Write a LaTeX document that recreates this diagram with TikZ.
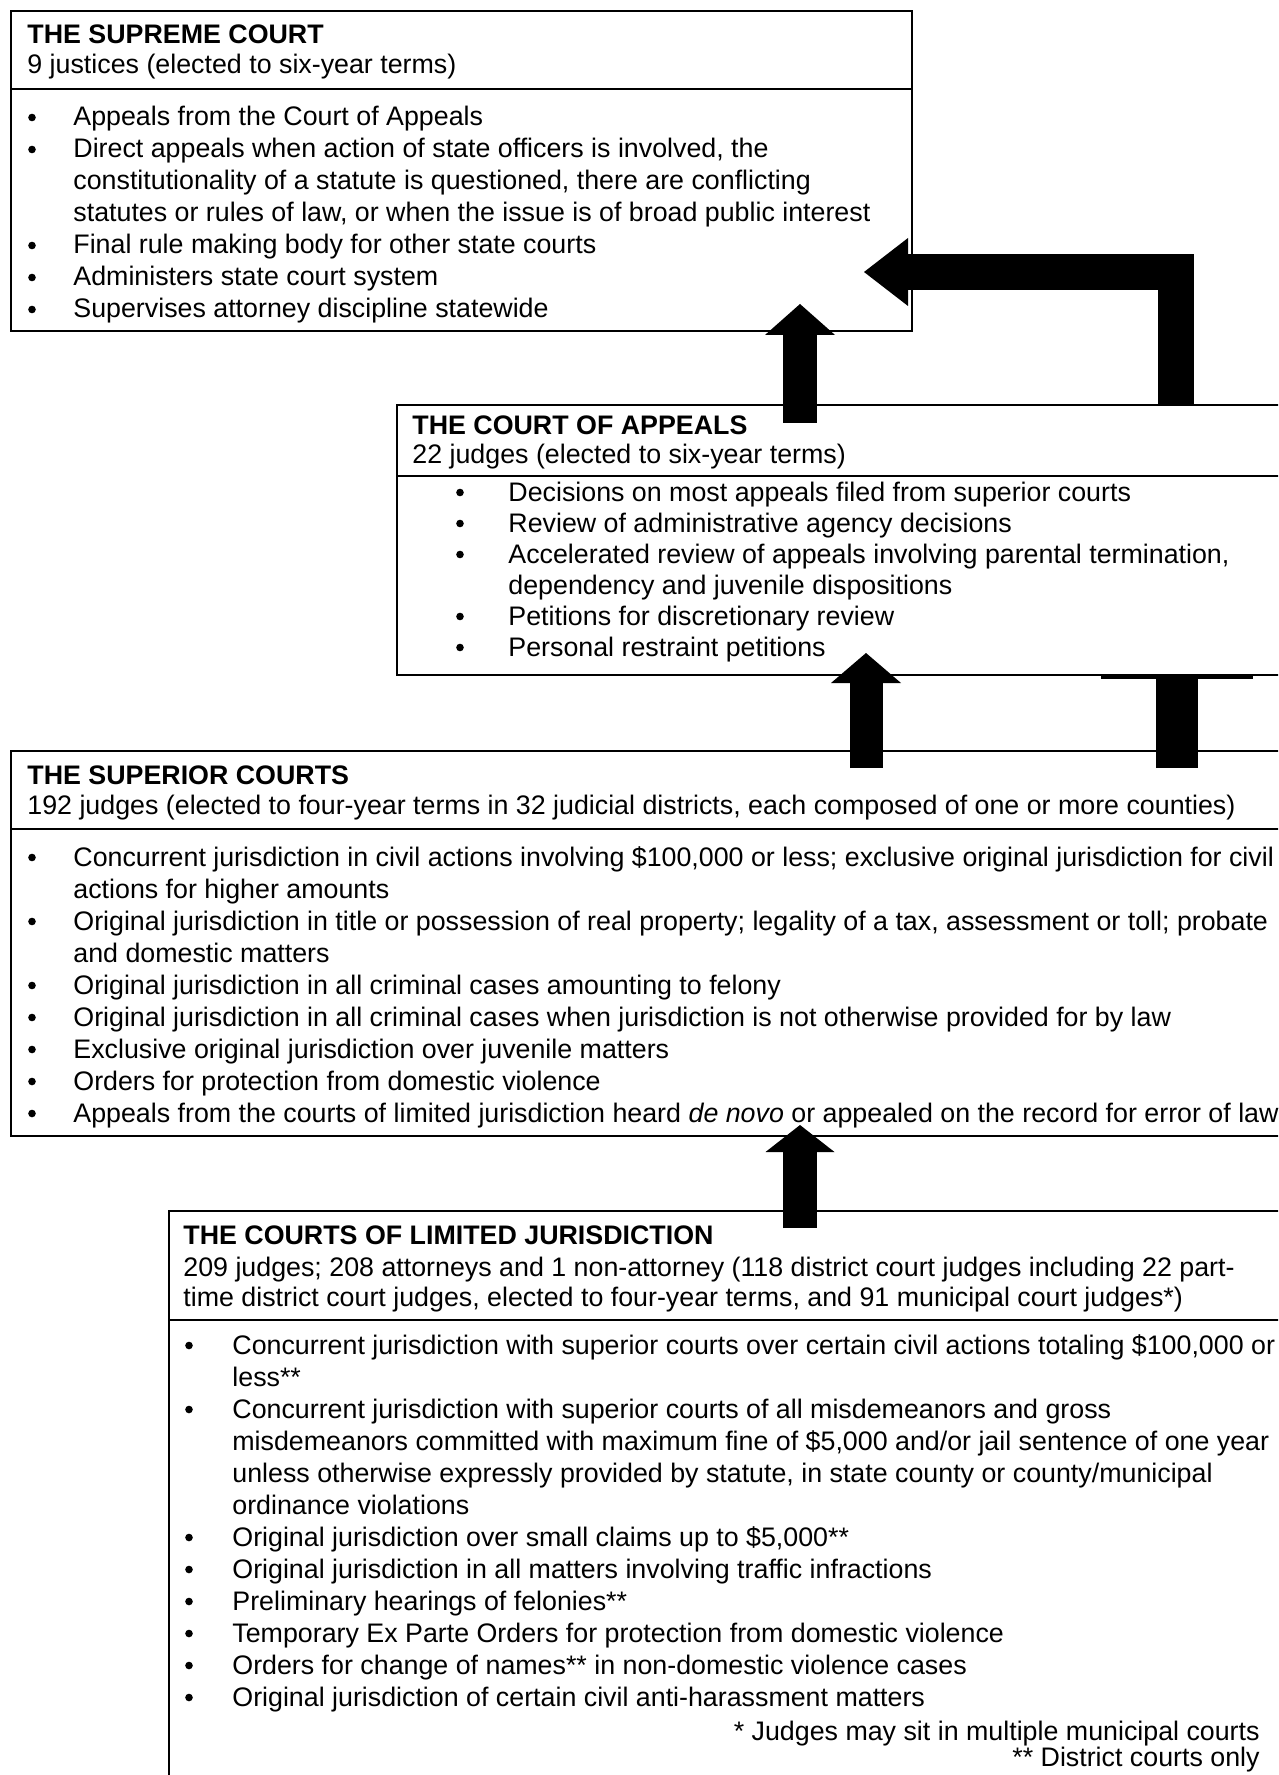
\documentclass[tikz,border=0pt]{standalone}
\usepackage{fontspec}
\setmainfont{Liberation Sans}
\usetikzlibrary{arrows.meta}
\begin{document}
\begin{tikzpicture}[x=0.5pt,y=-0.5pt,line join=miter]
	\tikzset{every node/.style={inner sep=0pt,anchor=base west,font=\fontsize{13.4}{16}\selectfont},
		ttl/.style={font=\fontsize{13.4}{16}\selectfont\bfseries},
		box/.style={line width=1.3pt},
		fat/.style={line width=#1},
		tip/.style 2 args={-{Triangle[width=#1,length=#2,line width=0pt]}}}
	\useasboundingbox (0,0) rectangle (1278,1775);
	\clip (0,0) rectangle (1278,1775);
	% supreme court
	\draw[box] (11,11) rectangle (912,331) (11,89) -- (912,89);
	\node[ttl] (sup) at (27,44) {THE SUPREME COURT};
	\node (sup-s) at (27,74) {9 justices (elected to six-year terms)};
	\foreach \y/\t [count=\i] in {126/{Appeals from the Court of Appeals},
		158/{Direct appeals when action of state officers is involved, the},
		190/{constitutionality of a statute is questioned, there are conflicting},
		222/{statutes or rules of law, or when the issue is of broad public interest},
		254/{Final rule making body for other state courts},
		286/{Administers state court system},
		318/{Supervises attorney discipline statewide}}
	\node (sup-\i) at (73,\y) {\t};
	\foreach \y in {126,158,254,286,318}
	\fill (32,\y-8.5) circle (1.9pt);
	% court of appeals
	\draw[box] (397,405) rectangle (1300,675) (397,476) -- (1300,476);
	\node[ttl] (app) at (412,435) {THE COURT OF APPEALS};
	\node (app-s) at (412,464) {22 judges (elected to six-year terms)};
	\foreach \y/\t [count=\i] in {501/{Decisions on most appeals filed from superior courts},
		532/{Review of administrative agency decisions},
		563/{Accelerated review of appeals involving parental termination,},
		594/{dependency and juvenile dispositions},
		625/{Petitions for discretionary review},
		656/{Personal restraint petitions}}
	\node (app-\i) at (508,\y) {\t};
	\foreach \y in {501,532,563,625,656}
	\fill (460,\y-8.5) circle (1.9pt);
	% superior courts
	\draw[box] (11,751) rectangle (1300,1136) (11,829) -- (1300,829);
	\node[ttl] (spr) at (27,784) {THE SUPERIOR COURTS};
	\node (spr-s) at (27,814) {192 judges (elected to four-year terms in 32 judicial districts, each composed of one or more counties)};
	\foreach \y/\t [count=\i] in {866/{Concurrent jurisdiction in civil actions involving \$100,000 or less; exclusive original jurisdiction for civil},
		898/{actions for higher amounts},
		930/{Original jurisdiction in title or possession of real property; legality of a tax, assessment or toll; probate},
		962/{and domestic matters},
		994/{Original jurisdiction in all criminal cases amounting to felony},
		1026/{Original jurisdiction in all criminal cases when jurisdiction is not otherwise provided for by law},
		1058/{Exclusive original jurisdiction over juvenile matters},
		1090/{Orders for protection from domestic violence},
		1122/{Appeals from the courts of limited jurisdiction heard \textit{de novo} or appealed on the record for error of law}}
	\node (spr-\i) at (73,\y) {\t};
	\foreach \y in {866,930,994,1026,1058,1090,1122}
	\fill (32,\y-8.5) circle (1.9pt);
	% courts of limited jurisdiction
	\draw[box] (169,1211) rectangle (1300,1800) (169,1320) -- (1300,1320);
	\node[ttl] (lim) at (183,1244) {THE COURTS OF LIMITED JURISDICTION};
	\node (lim-s1) at (183,1276) {209 judges; 208 attorneys and 1 non-attorney (118 district court judges including 22 part-};
	\node (lim-s2) at (183,1306) {time district court judges, elected to four-year terms, and 91 municipal court judges*)};
	\foreach \y/\t [count=\i] in {1354/{Concurrent jurisdiction with superior courts over certain civil actions totaling \$100,000 or},
		1386/{less**},
		1418/{Concurrent jurisdiction with superior courts of all misdemeanors and gross},
		1450/{misdemeanors committed with maximum fine of \$5,000 and/or jail sentence of one year},
		1482/{unless otherwise expressly provided by statute, in state county or county/municipal},
		1514/{ordinance violations},
		1546/{Original jurisdiction over small claims up to \$5,000**},
		1578/{Original jurisdiction in all matters involving traffic infractions},
		1610/{Preliminary hearings of felonies**},
		1642/{Temporary Ex Parte Orders for protection from domestic violence},
		1674/{Orders for change of names** in non-domestic violence cases},
		1706/{Original jurisdiction of certain civil anti-harassment matters}}
	\node (lim-\i) at (232,\y) {\t};
	\foreach \y in {1354,1418,1546,1578,1610,1642,1674,1706}
	\fill (189,\y-8.5) circle (1.9pt);
	\node[anchor=base east] (fn1) at (1260,1740) {* Judges may sit in multiple municipal courts};
	\node[anchor=base east] (fn2) at (1260,1766) {** District courts only};
	% appeal arrows
	\coordinate (a1) at (800,423); \coordinate (a2) at (800,304);
	\coordinate (b1) at (1176,406); \coordinate (b2) at (864,272);
	\coordinate (c1) at (866,768); \coordinate (c2) at (866,653);
	\coordinate (d1) at (1177,768); \coordinate (d2) at (1177,675);
	\coordinate (e1) at (800,1228); \coordinate (e2) at (800,1125);
	\draw[fat=17pt,tip={35pt}{15.5pt}] (a1) -- (a2);
	\draw[fat=18pt,tip={34pt}{22pt}] (b1) |- (b2);
	\draw[fat=16.5pt,tip={35pt}{15pt}] (c1) -- (c2);
	\draw[fat=21pt] (d1) -- (d2);
	\draw[line width=2pt] (1101,677) -- (1253,677);
	\draw[fat=17pt,tip={34.5pt}{13.5pt}] (e1) -- (e2);
\end{tikzpicture}
\end{document}
